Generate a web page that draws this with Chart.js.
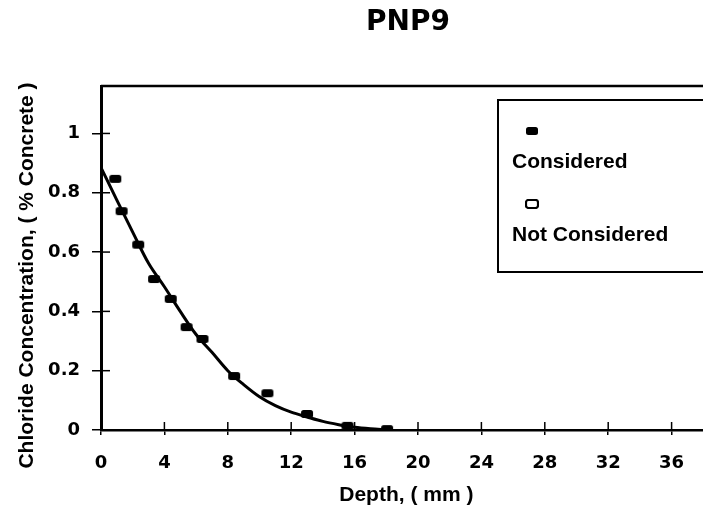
<!DOCTYPE html>
<html>
<head>
<meta charset="utf-8">
<script src="https://cdn.jsdelivr.net/npm/chart.js@4.4.1/dist/chart.umd.min.js"></script>
<style>
  html, body { margin: 0; padding: 0; background: #ffffff; overflow: hidden; width: 703px; height: 510px; }
  #wrap { position: absolute; left: 0; top: 0; width: 816px; height: 510px; }
</style>
</head>
<body>
<div id="wrap"><canvas id="c"></canvas></div>
<script>
// ---------- data ----------
const chartTitle = 'PNP9';
const xAxisTitle = 'Depth, ( mm )';
const yAxisTitle = 'Chloride Concentration, ( % Concrete )';
const seriesNames = ['Considered', 'Not Considered'];

const xTickValues = [0, 4, 8, 12, 16, 20, 24, 28, 32, 36, 40];
const yTickValues = [0, 0.2, 0.4, 0.6, 0.8, 1];

// measured points used in the fit
const consideredDepth    = [0.9, 1.3, 2.35, 3.35, 4.4, 5.4, 6.4, 8.4, 10.5, 13.0, 15.55, 18.05];
const consideredChloride = [0.847, 0.738, 0.625, 0.509, 0.442, 0.347, 0.307, 0.182, 0.124, 0.054, 0.014, 0.003];

// points not used in the fit (none visible)
const notConsideredDepth    = [];
const notConsideredChloride = [];

// fitted profile
const fitDepth    = [0, 1, 2, 3, 4, 5, 6, 7, 8, 9, 10, 11, 12, 13, 14, 15, 16, 17, 18];
const fitChloride = [0.885, 0.775, 0.667, 0.562, 0.483, 0.400, 0.322, 0.262, 0.200, 0.153, 0.112, 0.082, 0.060, 0.044, 0.029, 0.018, 0.009, 0.004, 0.001];

// ---------- helpers ----------
function pairs(xs, ys) { return xs.map((x, i) => ({ x: x, y: ys[i] })); }

function roundRectPath(g, x, y, w, h, r) {
  g.beginPath();
  g.moveTo(x + r, y);
  g.arcTo(x + w, y, x + w, y + h, r);
  g.arcTo(x + w, y + h, x, y + h, r);
  g.arcTo(x, y + h, x, y, r);
  g.arcTo(x, y, x + w, y, r);
  g.closePath();
}
function makeMarker(filled) {
  const c = document.createElement('canvas');
  c.width = 14; c.height = 10;
  const g = c.getContext('2d');
  roundRectPath(g, 1, 1, 12, 8, 2.5);
  if (filled) { g.fillStyle = '#000'; g.fill(); }
  else { g.fillStyle = '#fff'; g.fill(); g.lineWidth = 2.2; g.strokeStyle = '#000'; g.stroke(); }
  return c;
}
const filledMarker = makeMarker(true);
const hollowMarker = makeMarker(false);

const TICK_FONT = { family: 'DejaVu Sans', weight: 'bold', size: 18 };
const TITLE_FONT = { family: 'Liberation Sans', weight: 'bold', size: 21 };

// frame, inner tick marks and boxed legend
const decorPlugin = {
  id: 'decor',
  afterDraw(chart) {
    const g = chart.ctx;
    const a = chart.chartArea;
    const xs = chart.scales.x, ys = chart.scales.y;
    g.save();
    g.strokeStyle = '#000';
    // top and right border of the plot
    g.lineWidth = 2.5;
    g.beginPath();
    g.moveTo(a.left, a.top); g.lineTo(a.right, a.top); g.lineTo(a.right, a.bottom);
    g.stroke();
    // inner halves of the crossing tick marks
    g.lineWidth = 1.5;
    xs.ticks.forEach(t => {
      const px = xs.getPixelForValue(t.value);
      g.beginPath(); g.moveTo(px, a.bottom); g.lineTo(px, a.bottom - 8); g.stroke();
    });
    ys.ticks.forEach(t => {
      const py = ys.getPixelForValue(t.value);
      g.beginPath(); g.moveTo(a.left, py); g.lineTo(a.left + 9, py); g.stroke();
    });
    // legend box
    const bx = a.right - 237, by = a.top + 14, bh = 172;
    g.fillStyle = '#fff';
    g.fillRect(bx, by, a.right - 10 - bx, bh);
    g.lineWidth = 2;
    g.strokeRect(bx, by, a.right - 10 - bx, bh);
    g.font = 'bold 21px "Liberation Sans"';
    g.fillStyle = '#000';
    g.textBaseline = 'middle';
    g.textAlign = 'left';
    const names = chart.data.datasets.filter(d => d.legendName).map(d => d.legendName);
    const imgs = [filledMarker, hollowMarker];
    names.forEach((n, i) => {
      const my = by + 31 + i * 73;
      g.drawImage(imgs[i], bx + 27, my - 5);
      g.fillText(n, bx + 14, my + 31);
    });
    g.restore();
  }
};

new Chart(document.getElementById('c'), {
  type: 'scatter',
  data: {
    datasets: [
      {
        label: 'fit',
        data: pairs(fitDepth, fitChloride),
        showLine: true,
        borderColor: '#000',
        borderWidth: 3,
        pointRadius: 0,
        cubicInterpolationMode: 'monotone',
        order: 2
      },
      {
        label: seriesNames[0],
        legendName: seriesNames[0],
        data: pairs(consideredDepth, consideredChloride),
        pointStyle: filledMarker,
        pointRadius: 6,
        order: 1
      },
      {
        label: seriesNames[1],
        legendName: seriesNames[1],
        data: pairs(notConsideredDepth, notConsideredChloride),
        pointStyle: hollowMarker,
        pointRadius: 6,
        order: 0
      }
    ]
  },
  options: {
    responsive: true,
    maintainAspectRatio: false,
    animation: false,
    devicePixelRatio: 1,
    layout: { padding: 0 },
    plugins: {
      legend: { display: false },
      tooltip: { enabled: false },
      title: {
        display: true,
        text: chartTitle,
        color: '#000',
        font: { family: 'DejaVu Sans', weight: 'bold', size: 28 },
        padding: { top: 6, bottom: 46.4 }
      }
    },
    scales: {
      x: {
        type: 'linear',
        min: xTickValues[0],
        max: xTickValues[xTickValues.length - 1],
        afterBuildTicks: s => { s.ticks = xTickValues.map(v => ({ value: v })); },
        afterFit: s => { s.height = 80; s.paddingLeft = 0; s.paddingRight = 0; },
        ticks: { color: '#000', font: TICK_FONT, padding: 18, maxRotation: 0, autoSkip: false,
                 callback: v => String(v) },
        grid: { display: true, drawOnChartArea: false, drawTicks: true, tickLength: 5, color: '#000', lineWidth: 1.5 },
        border: { display: true, color: '#000', width: 2.5 },
        title: { display: true, text: xAxisTitle + '\u00a0\u00a0\u00a0\u00a0', color: '#000', font: TITLE_FONT, padding: { top: 0, bottom: 2 } }
      },
      y: {
        type: 'linear',
        min: 0,
        max: 1.16,
        afterBuildTicks: s => { s.ticks = yTickValues.map(v => ({ value: v })); },
        afterFit: s => { s.width = 101; },
        ticks: { color: '#000', font: TICK_FONT, padding: 12,
                 callback: v => String(Math.round(v * 10) / 10) },
        grid: { display: true, drawOnChartArea: false, drawTicks: true, tickLength: 9, color: '#000', lineWidth: 1.5 },
        border: { display: true, color: '#000', width: 3 },
        title: { display: true, text: yAxisTitle + '\u00a0\u00a0\u00a0\u00a0\u00a0\u00a0', color: '#000', font: TITLE_FONT, padding: { top: 15, bottom: 0 } }
      },
      yRight: {
        type: 'linear',
        position: 'right',
        display: true,
        afterFit: s => { s.width = 81; },
        ticks: { display: false },
        grid: { display: false },
        border: { display: false },
        title: { display: false }
      }
    }
  },
  plugins: [decorPlugin]
});
</script>
</body>
</html>
